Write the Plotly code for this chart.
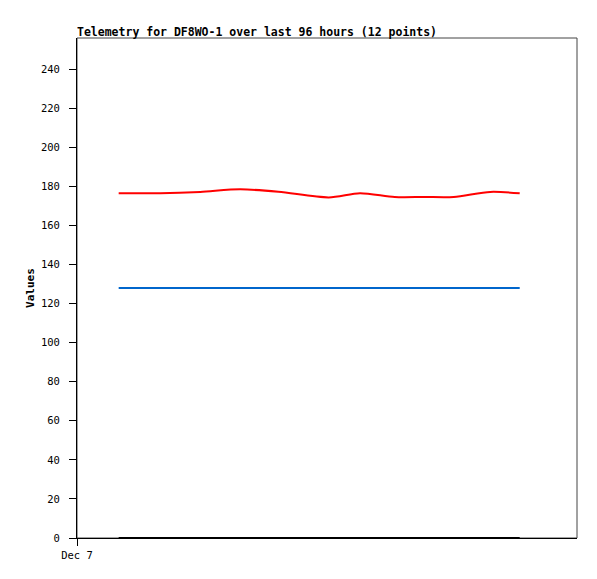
import plotly.graph_objects as go

times = ["2024-12-07 02:00", "2024-12-07 04:00", "2024-12-07 05:55", "2024-12-07 07:50",
         "2024-12-07 09:40", "2024-12-07 12:05", "2024-12-07 13:35", "2024-12-07 15:15",
         "2024-12-07 16:40", "2024-12-07 18:05", "2024-12-07 19:50", "2024-12-07 21:15"]
red_values = [176.5, 176.5, 177.2, 178.5, 177.3, 174.4, 176.5, 174.6, 174.6, 174.6, 177.2, 176.5]
blue_values = [128] * 12
black_values = [0] * 12

title_text = "Telemetry for DF8WO-1 over last 96 hours (12 points)"
y_ticks = [0, 20, 40, 60, 80, 100, 120, 140, 160, 180, 200, 220, 240]
x_tick_vals = ["2024-12-07 00:00"]
x_tick_text = ["Dec 7"]

mono = "DejaVu Sans Mono"
W, H = 589, 571  # page body has an 8px margin

fig = go.Figure()
fig.add_trace(go.Scatter(x=times, y=black_values, mode="lines",
                         line=dict(color="#000000", width=2), showlegend=False))
fig.add_trace(go.Scatter(x=times, y=blue_values, mode="lines",
                         line=dict(color="#0066cc", width=2), showlegend=False))
fig.add_trace(go.Scatter(x=times, y=red_values, mode="lines",
                         line=dict(color="#ff0000", width=2, shape="spline", smoothing=0.8),
                         showlegend=False))

fig.update_layout(
    width=W, height=H,
    margin=dict(l=69, r=20, t=30, b=41),
    paper_bgcolor="white", plot_bgcolor="white",
    title=dict(text="<b>" + title_text + "</b>", x=69 / W, xanchor="left",
               y=1 - 24 / H, yanchor="middle",
               font=dict(family=mono, size=11.5, color="black")),
    xaxis=dict(type="date", range=["2024-12-07 00:00", "2024-12-08 00:00"],
               tickvals=x_tick_vals, ticktext=x_tick_text,
               showgrid=False, zeroline=False, showline=True, linecolor="black", linewidth=1,
               ticks="outside", ticklen=7, tickcolor="black", ticklabelstandoff=0,
               tickfont=dict(family=mono, size=10.5, color="black")),
    yaxis=dict(range=[0, 256], tickvals=y_ticks,
               showgrid=False, zeroline=False, showline=True, linecolor="black", linewidth=1,
               ticks="outside", ticklen=7, tickcolor="black", ticklabelstandoff=7,
               tickfont=dict(family=mono, size=10.5, color="black"),
               title=dict(text="<b>Values</b>", font=dict(family=mono, size=11, color="black"),
                          standoff=4)),
    shapes=[dict(type="rect", xref="paper", yref="paper", x0=0, x1=1, y0=0, y1=1,
                 line=dict(color="#444444", width=1), layer="below")],
)

fig.write_html("out.html")
